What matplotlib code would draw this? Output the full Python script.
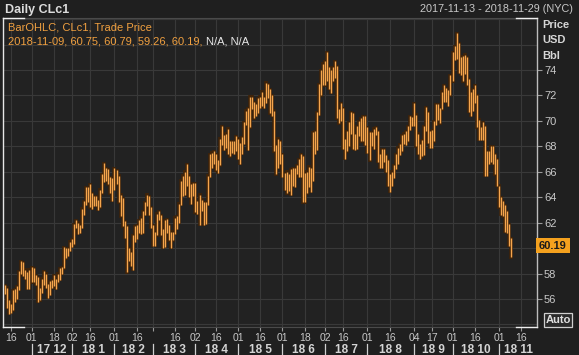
import numpy as np
import pandas as pd
import matplotlib
matplotlib.use('Agg')
import matplotlib.pyplot as plt
from matplotlib.lines import Line2D

plt.rcParams['font.family'] = ['Liberation Sans', 'DejaVu Sans']

# ---------------- data ----------------
holidays = ['2017-11-23', '2017-12-25', '2018-01-01', '2018-01-15', '2018-02-19',
            '2018-03-30', '2018-05-28', '2018-07-04', '2018-09-03']
axis_days = [d for d in pd.bdate_range('2017-11-13', '2018-11-30')
             if d.strftime('%Y-%m-%d') not in holidays]

high = [
    # Nov 2017
    57.1, 56.9, 55.9, 55.6, 56.7, 56.8, 57.0, 58.2, 59.0, 58.9, 58.3, 58.1, 58.3,
    # Dec
    58.5, 58.4, 57.9, 57.7, 56.9, 57.6, 58.2, 58.0, 57.2, 57.4, 57.5, 57.9, 57.6, 58.0, 58.4, 58.5, 60.1, 60.0, 60.0, 60.5,
    # Jan 2018
    60.7, 61.9, 62.2, 62.0, 61.8, 63.1, 63.7, 64.8, 64.8, 65.0, 64.3, 64.1, 64.1, 63.8, 64.6, 65.8, 66.7, 66.3, 66.2, 65.6, 65.5,
    # Feb
    66.3, 66.1, 65.7, 64.2, 63.9, 62.1, 61.7, 60.0, 59.7, 61.0, 61.7, 61.8, 62.2, 62.4, 62.9, 63.6, 64.2, 64.1, 63.2,
    # Mar
    61.8, 61.3, 62.7, 62.9, 62.6, 61.5, 62.2, 62.3, 61.8, 61.3, 61.3, 62.4, 62.5, 63.5, 65.3, 65.7, 66.0, 66.6, 65.7, 65.0, 65.1,
    # Apr
    65.1, 63.7, 64.2, 63.8, 63.6, 63.6, 65.7, 67.4, 67.5, 67.6, 67.4, 66.9, 68.6, 69.6, 68.9, 69.0, 69.4, 68.4, 68.4, 68.4, 68.8,
    # May
    68.6, 68.3, 68.7, 69.9, 70.8, 71.0, 71.9, 71.9, 71.5, 71.3, 71.8, 71.9, 72.3, 71.9, 73.0, 72.9, 72.5, 72.0, 70.8, 68.1, 68.6, 68.4,
    # Jun
    67.4, 65.9, 66.0, 65.8, 66.2, 66.3, 66.3, 66.5, 67.0, 67.4, 67.2, 65.9, 66.0, 66.4, 66.3, 69.1, 69.2, 70.7, 72.9, 74.0, 74.5,
    # Jul
    74.7, 75.4, 74.2, 74.0, 74.2, 74.7, 74.3, 70.9, 71.4, 71.0, 68.6, 69.2, 69.9, 70.7, 70.6, 69.0, 69.6, 70.0, 70.2, 70.4, 70.4,
    # Aug
    69.5, 69.1, 69.1, 69.4, 69.5, 69.2, 67.4, 67.8, 67.8, 67.3, 66.9, 65.8, 66.0, 66.5, 67.4, 67.9, 68.2, 68.9, 69.0, 69.2, 69.6, 70.4, 70.3,
    # Sep
    71.4, 70.5, 69.0, 68.2, 68.5, 69.6, 71.1, 70.7, 69.2, 69.3, 70.0, 71.3, 71.3, 71.0, 72.3, 72.8, 72.6, 72.4, 73.6,
    # Oct
    75.4, 75.9, 76.9, 76.1, 75.0, 75.1, 75.2, 75.0, 73.3, 72.3, 72.5, 72.8, 72.0, 70.1, 69.5, 69.9, 69.6, 67.6, 67.6, 68.0, 68.0, 67.4, 67.0,
    # Nov
    64.9, 64.0, 63.7, 63.4, 62.9, 61.9, 60.79,
]
low = [
    # Nov 2017
    56.4, 55.3, 54.8, 54.9, 55.1, 55.8, 56.0, 56.7, 58.0, 57.8, 57.6, 56.8, 56.8,
    # Dec
    57.3, 57.3, 57.1, 55.8, 55.9, 56.5, 57.1, 56.9, 56.1, 56.3, 56.9, 57.0, 56.8, 57.3, 57.5, 58.0, 58.4, 59.2, 59.4, 59.8,
    # Jan 2018
    60.1, 60.3, 61.6, 61.1, 61.2, 61.6, 62.6, 63.4, 63.6, 63.2, 63.1, 63.3, 63.3, 63.0, 63.2, 64.3, 65.2, 65.3, 65.0, 64.3, 63.7,
    # Feb
    64.6, 65.0, 63.6, 62.5, 61.7, 60.8, 58.1, 59.0, 58.6, 58.3, 60.5, 60.7, 61.2, 61.1, 61.2, 62.6, 63.3, 62.6, 61.6,
    # Mar
    60.2, 60.2, 61.0, 62.2, 61.0, 60.0, 60.1, 61.2, 60.6, 60.0, 60.6, 61.1, 61.5, 62.0, 63.4, 64.1, 64.2, 64.9, 64.0, 63.5, 64.1,
    # Apr
    62.8, 62.7, 61.8, 62.9, 61.8, 61.9, 63.4, 65.6, 66.3, 66.6, 66.1, 65.9, 66.5, 68.1, 67.7, 67.9, 67.4, 67.2, 67.5, 67.4, 67.6,
    # May
    67.0, 66.6, 67.4, 68.2, 69.7, 67.7, 69.5, 70.9, 70.2, 70.4, 70.6, 71.0, 71.2, 71.0, 71.4, 71.8, 70.6, 70.4, 67.6, 65.8, 66.3, 66.6,
    # Jun
    65.6, 64.6, 64.3, 64.5, 64.2, 64.9, 64.8, 65.8, 65.6, 65.6, 63.6, 63.6, 64.3, 64.8, 64.4, 65.3, 67.4, 67.7, 70.5, 72.0, 72.8,
    # Jul
    72.8, 73.1, 72.5, 72.2, 73.1, 73.4, 70.2, 69.8, 70.0, 67.8, 67.0, 67.6, 68.0, 69.0, 67.8, 67.7, 67.8, 68.8, 68.4, 68.4, 68.1,
    # Aug
    67.5, 66.9, 68.0, 67.8, 68.9, 66.8, 66.3, 66.3, 66.8, 66.0, 64.9, 64.4, 64.9, 65.5, 66.2, 66.6, 67.3, 67.6, 68.2, 68.1, 68.4, 69.3, 69.6,
    # Sep
    69.6, 68.0, 67.4, 67.0, 67.2, 67.3, 69.2, 68.3, 67.9, 67.9, 68.4, 69.7, 70.1, 69.8, 70.9, 71.5, 71.5, 71.2, 72.0,
    # Oct
    73.1, 74.8, 74.9, 73.8, 73.6, 73.1, 73.7, 72.8, 70.7, 70.4, 70.8, 71.4, 69.5, 68.5, 68.5, 68.5, 65.7, 65.7, 66.6, 66.8, 66.6, 65.8, 64.9,
    # Nov
    63.2, 62.6, 62.5, 61.3, 61.2, 60.2, 59.26,
]
last_date = '2018-11-09'
last_open, last_high, last_low, last_close = 60.75, 60.79, 59.26, 60.19

price_ticks = [56, 58, 60, 62, 64, 66, 68, 70, 72, 74]
grid_levels = [54, 56, 58, 60, 62, 64, 66, 68, 70, 72, 74, 76, 78]

day_ticks = ['2017-11-16', '2017-12-01', '2017-12-18', '2018-01-02', '2018-01-16',
             '2018-02-01', '2018-02-16', '2018-03-01', '2018-03-16', '2018-04-02',
             '2018-04-16', '2018-05-01', '2018-05-16', '2018-06-01', '2018-06-18',
             '2018-07-02', '2018-07-16', '2018-08-01', '2018-08-16', '2018-09-04',
             '2018-09-17', '2018-10-01', '2018-10-16', '2018-11-01', '2018-11-16']
day_labels = ['16', '01', '18', '02', '16', '01', '16', '', '16', '02', '16', '01', '16',
              '01', '18', '02', '16', '01', '16', '04', '17', '01', '16', '01', '16']
month_starts = ['2017-12-01', '2018-01-02', '2018-02-01', '2018-03-01', '2018-04-02',
                '2018-05-01', '2018-06-01', '2018-07-02', '2018-08-01', '2018-09-04',
                '2018-10-01', '2018-11-01']
month_labels = ['17 12', '18 1', '18 2', '18 3', '18 4', '18 5', '18 6', '18 7',
                '18 8', '18 9', '18 10', '18 11']

# ---------------- style ----------------
BG = '#1f1f1f'
AXBG = '#222222'
GRID = '#393939'
ORANGE = '#f6a64e'
OUTLINE = '#3f2309'
TXT = '#c8c8c8'
LEG = '#f0a040'

W, H = 579, 355
L, R, T, B = 3, 537, 18, 327

fig = plt.figure(figsize=(W / 100, H / 100), dpi=100, facecolor=BG)
ax = fig.add_axes([L / W, 1 - B / H, (R - L) / W, (B - T) / H], facecolor=AXBG)

pos = {d.strftime('%Y-%m-%d'): i for i, d in enumerate(axis_days)}
x = np.arange(len(high))

ax.set_xlim((L - 5.2) / 2.024, (R - 5.2) / 2.024)
ax.set_ylim(74 - (B - 70) / 12.72, 74 + (70 - T) / 12.72)

for g in grid_levels:
    ax.axhline(g, color=GRID, lw=0.8, zorder=0)
tick_pos = [pos[d] for d in day_ticks]
for p in tick_pos:
    ax.axvline(p, color=GRID, lw=0.8, zorder=0)

ax.vlines(x, np.array(low) - 0.1, np.array(high) + 0.1, colors=OUTLINE, lw=2.6, zorder=2)
ax.vlines(x, low, high, colors=ORANGE, lw=1.0, zorder=3)

# axes ticks (the 60 label sits under the last-price box)
ax.yaxis.tick_right()
ax.set_yticks(price_ticks)
ax.set_yticklabels(['' if v == 60 else str(v) for v in price_ticks])
ax.tick_params(axis='y', direction='out', length=3.5, width=0.8, colors='#9a9a9a',
               labelcolor=TXT, labelsize=8, pad=1.5)
ax.set_xticks(tick_pos)
ax.set_xticklabels(day_labels)
ax.tick_params(axis='x', direction='out', length=3, width=0.8, colors='#9a9a9a',
               labelcolor=TXT, labelsize=7.5, pad=1.5)

for s in ['top', 'bottom']:
    ax.spines[s].set_color('#4a4a4a')
    ax.spines[s].set_linewidth(0.8)
ax.spines['left'].set_color('#e6e6e6')
ax.spines['left'].set_linewidth(1.0)
ax.spines['right'].set_color('#bdbdbd')
ax.spines['right'].set_linewidth(1.0)

# white corner brackets
cw = 21 / (R - L)
for (xa, xb, yy) in [(0, cw, 0), (1 - cw, 1, 0), (1 - cw, 1, 1), (0, cw, 1)]:
    ax.add_line(Line2D([xa, xb], [yy, yy], transform=ax.transAxes, color='#eeeeee',
                       lw=1.0, clip_on=False, zorder=5))

def fx(px):
    return px / W

def fy(py):
    return 1 - py / H

# header
fig.text(fx(5), fy(10), 'Daily CLc1', color='#dcdcdc', fontsize=9, fontweight='bold',
         ha='left', va='center')
fig.text(fx(573), fy(9), '2017-11-13 - 2018-11-29 (NYC)', color=TXT, fontsize=7.8,
         ha='right', va='center')

# legend lines
fig.text(fx(8), fy(28), 'BarOHLC, CLc1, Trade Price', color=LEG, fontsize=8,
         ha='left', va='center')
t1 = fig.text(fx(8), fy(42),
              f'{last_date}, {last_open:.2f}, {last_high:.2f}, {last_low:.2f}, {last_close:.2f},',
              color=LEG, fontsize=8, ha='left', va='center')
fig.canvas.draw()
bb = t1.get_window_extent()
fig.text(bb.x1 / W + 3 / W, fy(42), 'N/A, N/A', color='#e8e8e8', fontsize=8,
         ha='left', va='center')

# unit labels
for lab, yy in [('Price', 25), ('USD', 40), ('Bbl', 56)]:
    fig.text(fx(542), fy(yy), lab, color='#d6d6d6', fontsize=8, fontweight='bold',
             ha='left', va='center')

# last price box
ylast = 70 + (74 - last_close) * 12.72
fig.text(fx(539), fy(ylast), f'{last_close:.2f}', color='#1a1a1a', fontsize=8,
         fontweight='bold', ha='left', va='center', zorder=10,
         bbox=dict(boxstyle='square,pad=0.25', fc='#f4a11e', ec='none'))

# Auto button
fig.text(fx(558), fy(320), 'Auto', color='#e0e0e0', fontsize=8, fontweight='bold',
         ha='center', va='center', zorder=10,
         bbox=dict(boxstyle='square,pad=0.15', fc='#2a2a2a', ec='#cfcfcf', lw=0.9))

# month labels with separators
ms = [pos[d] for d in month_starts]
xmax = ax.get_xlim()[1]
ends = ms[1:] + [xmax]
to_fig = lambda v: ax.transData.transform((v, 0))[0] / W
for s, e, lab in zip(ms, ends, month_labels):
    fig.add_artist(Line2D([to_fig(s), to_fig(s)], [fy(344), fy(355)], color='#cfcfcf', lw=0.9))
    fig.text((to_fig(s) + to_fig(e)) / 2, fy(350), lab, color='#d4d4d4', fontsize=8.5,
             fontweight='bold', ha='center', va='center')

fig.savefig('out.png', dpi=100, facecolor=BG)
